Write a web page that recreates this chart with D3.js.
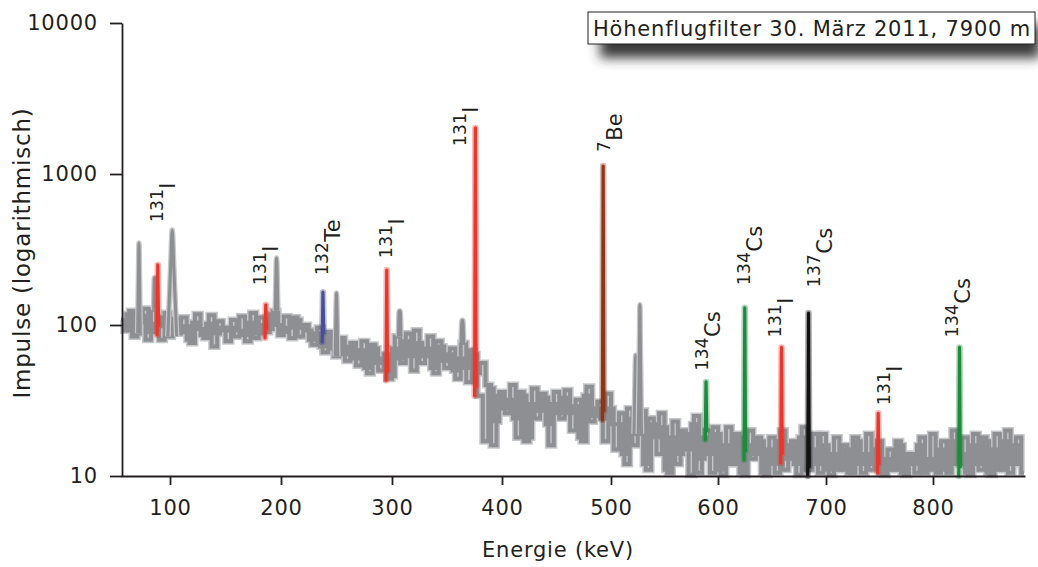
<!DOCTYPE html>
<html>
<head>
  <meta charset="utf-8">
  <title>Höhenflugfilter 30. März 2011</title>
  <script src="https://d3js.org/d3.v7.min.js"></script>
  <style>
    body { margin: 0; background: #fff; }
    svg text { font-family: "DejaVu Sans", Verdana, sans-serif; fill: #231f20; letter-spacing: 0.8px; }
    .axis path, .axis line { stroke: #231f20; stroke-width: 1.8; }
  </style>
</head>
<body>
  <svg id="chart" width="1038" height="567"></svg>
  <script>
    // spectrum, two overlaid traces: counts per 5 keV bin
    var binWidth = 5;
    var startA = 55;
    var countsA = [
      108, 92, 124, 88, 115, 80, 126, 98, 112, 84,
      110, 90, 98, 76, 118, 86, 102, 72, 106, 92,
      96, 84, 114, 78, 120, 88, 100, 94, 124, 86,
      114, 82, 108, 96, 92, 74, 96, 66, 86, 62,
      82, 58, 76, 54, 78, 48, 70, 50, 64, 46,
      84, 56, 88, 50, 76, 62, 84, 48, 72, 52,
      70, 44, 76, 42, 64, 34, 17, 38, 23, 36,
      26, 40, 18, 34, 18, 38, 27, 33, 16, 36,
      24, 37, 20, 32, 17, 39, 25, 31, 17, 28,
      15, 26, 12, 24, 19, 27, 11, 22, 14, 21,
      10.5, 23, 14, 19, 10.2, 25, 13, 20, 10.5, 19,
      10.2, 21, 12, 18, 10.2, 20, 14, 17, 10.2, 18,
      10.5, 20, 13, 17, 10.2, 21, 11, 19, 10.5, 16,
      10.2, 18, 11, 15, 10.5, 17, 10.5, 19, 12, 17,
      10.2, 15, 11, 16, 10.2, 14, 10.5, 18, 11, 19,
      10.5, 17, 10.5, 20, 12, 18, 10.2, 19, 11, 17,
      10.2, 19, 11, 20, 12, 18, 10.5
    ];
    var startB = 57.5;
    var countsB = [
      96, 118, 84, 104, 128, 90, 102, 80, 120, 94,
      88, 112, 80, 104, 94, 82, 116, 88, 96, 78,
      108, 92, 86, 104, 82, 112, 90, 118, 100, 90,
      96, 112, 84, 100, 80, 88, 72, 90, 70, 78,
      64, 72, 60, 68, 52, 74, 56, 60, 44, 70,
      60, 78, 62, 92, 56, 70, 52, 78, 58, 64,
      50, 60, 52, 68, 48, 56, 40, 16, 34, 28,
      32, 24, 36, 17, 30, 24, 35, 22, 30, 26,
      33, 26, 29, 18, 34, 23, 28, 24, 35, 22,
      22, 14, 28, 16, 22, 12, 24, 18, 26, 11,
      18, 12, 20, 15, 22, 10.5, 18, 14, 21, 11,
      16, 12, 19, 10.5, 16, 13, 18, 10.5, 15, 12,
      17, 11, 16, 12, 18, 11, 15, 12, 19, 11,
      14, 11, 16, 10.5, 18, 12, 14, 11, 15, 10.5,
      13, 11, 17, 10.5, 14, 12, 16, 10.5, 13, 11,
      15, 11, 17, 12, 14, 10.5, 16, 12, 18, 10.5,
      15, 11, 17, 10.5, 16, 12
    ];

    // unlabelled grey lines
    var grayPeakE     = [71.5, 86, 102, 196, 250, 307, 364, 523, 527];
    var grayPeakTop   = [349, 199, 425, 278, 163, 108, 90, 63, 136];
    var grayPeakWidth = [1.2, 1, 4, 1.2, 1.2, 1.2, 1.2, 1.5, 1.5];

    // identified lines
    var peakE      = [89, 186.5, 238, 295.5, 376, 493, 589, 625, 659, 684, 749, 825];
    var peakTop    = [250, 136, 165, 231, 2020, 1130, 42, 130, 71, 120, 26, 71];
    var peakBase   = [86, 82, 77, 43, 34, 23.5, 17.4, 12.8, 12.2, 10, 10.5, 10];
    var peakMass   = ['131', '131', '132', '131', '131', '7', '134', '134', '131', '137', '131', '134'];
    var peakElem   = ['I', 'I', 'Te', 'I', 'I', 'Be', 'Cs', 'Cs', 'I', 'Cs', 'I', 'Cs'];
    var peakColor  = ['#e8372c', '#e8372c', '#4a4f95', '#e8372c', '#e8372c', '#8a361a',
                      '#1d8a3c', '#1d8a3c', '#e8372c', '#111111', '#e8372c', '#1d8a3c'];
    var labelE     = [104.5, 197, 253, 311, 378, 510, 602, 641, 669, 706, 771, 835];
    var labelCount = [481, 184, 214, 278, 1532, 1399, 50, 184, 83, 178, 29.5, 83];

    var xTicks = [100, 200, 300, 400, 500, 600, 700, 800];
    var yTicks = [10, 100, 1000, 10000];
    var title = 'Höhenflugfilter 30. März 2011, 7900 m';

    var svg = d3.select('#chart');

    // the printed energy axis is not quite linear, so follow its tick marks
    var x = d3.scaleLinear()
        .domain([55, 100, 200, 300, 400, 500, 600, 700, 800, 886])
        .range([121, 170, 281, 392, 502, 611, 718, 826, 933, 1025])
        .clamp(true);
    var y = d3.scaleLog()
        .domain([10, 10000])
        .range([476, 23])
        .clamp(true);

    var defs = svg.append('defs');
    defs.append('filter')
        .attr('id', 'shadow')
        .attr('x', '-10%').attr('y', '-50%')
        .attr('width', '120%').attr('height', '250%')
      .append('feGaussianBlur')
        .attr('stdDeviation', 6);

    function toBins(arr, start) {
      return arr.map(function(c, i) { return { e: start + i * binWidth, c: c }; });
    }
    var traces = [toBins(countsA, startA), toBins(countsB, startB)];

    var stepLine = d3.line()
        .x(function(d) { return x(d.e); })
        .y(function(d) { return y(d.c); })
        .curve(d3.curveStep);

    var plot = svg.append('g');

    plot.selectAll('path.halo')
        .data(traces)
        .enter().append('path')
        .attr('class', 'halo')
        .attr('d', stepLine)
        .attr('fill', 'none')
        .attr('stroke', '#c6c7ca')
        .attr('stroke-width', 7);

    plot.selectAll('path.trace')
        .data(traces)
        .enter().append('path')
        .attr('class', 'trace')
        .attr('d', stepLine)
        .attr('fill', 'none')
        .attr('stroke', '#8e8f93')
        .attr('stroke-width', 4);

    function baseAt(e) {
      var i = Math.max(0, Math.min(countsA.length - 1, Math.round((e - startA) / binWidth)));
      return countsA[i];
    }

    var peakLine = d3.line()
        .x(function(d) { return x(d[0]); })
        .y(function(d) { return y(d[1]); })
        .curve(d3.curveMonotoneX);

    function peakShape(e, top, base, w) {
      return [
        [e - w, base],
        [e - w * 0.35, Math.sqrt(top * base) * 1.3],
        [e, top],
        [e + w * 0.35, Math.sqrt(top * base) * 1.3],
        [e + w, base]
      ];
    }

    grayPeakE.forEach(function(e, i) {
      var shape = peakShape(e, grayPeakTop[i], baseAt(e), grayPeakWidth[i]);
      plot.append('path')
          .attr('d', peakLine(shape))
          .attr('fill', 'none')
          .attr('stroke', '#c6c7ca')
          .attr('stroke-width', 5.5);
      plot.append('path')
          .attr('d', peakLine(shape))
          .attr('fill', 'none')
          .attr('stroke', '#8e8f93')
          .attr('stroke-width', 3);
    });

    var straight = d3.line()
        .x(function(d) { return x(d[0]); })
        .y(function(d) { return y(d[1]); });

    peakE.forEach(function(e, i) {
      var pts = [[e - 0.9, peakBase[i]], [e - 0.2, peakTop[i]], [e + 0.5, peakBase[i] * 1.15]];
      plot.append('path')
          .attr('d', straight(pts))
          .attr('fill', 'none')
          .attr('stroke', peakColor[i])
          .attr('stroke-opacity', 0.35)
          .attr('stroke-width', 6.5)
          .attr('stroke-linecap', 'round')
          .attr('stroke-linejoin', 'round');
      plot.append('path')
          .attr('d', straight(pts))
          .attr('fill', 'none')
          .attr('stroke', peakColor[i])
          .attr('stroke-width', 3.2)
          .attr('stroke-linecap', 'round')
          .attr('stroke-linejoin', 'round');
    });

    // isotope labels, vertical, mass number raised
    peakE.forEach(function(e, i) {
      var t = svg.append('text')
          .style('letter-spacing', '0.3px')
          .attr('transform', 'translate(' + x(labelE[i]) + ',' + y(labelCount[i]) + ') rotate(-90)');
      t.append('tspan')
          .attr('font-size', 17)
          .attr('dy', -12)
          .text(peakMass[i]);
      t.append('tspan')
          .attr('font-size', 21)
          .attr('dy', 12)
          .text(peakElem[i]);
    });

    // axes
    svg.append('g')
        .attr('class', 'axis')
        .attr('transform', 'translate(0,476)')
        .call(d3.axisBottom(x).tickValues(xTicks).tickSize(9).tickSizeOuter(0).tickPadding(15));
    svg.append('g')
        .attr('class', 'axis')
        .attr('transform', 'translate(122,0)')
        .call(d3.axisLeft(y).tickValues(yTicks).tickFormat(d3.format('d'))
          .tickSize(12).tickSizeOuter(0).tickPadding(12));
    svg.selectAll('.axis text')
        .attr('font-size', 21)
        .attr('font-family', '"DejaVu Sans", Verdana, sans-serif')
        .style('fill', '#231f20');

    svg.append('text')
        .attr('x', 558)
        .attr('y', 557)
        .attr('text-anchor', 'middle')
        .attr('font-size', 21)
        .text('Energie (keV)');

    svg.append('text')
        .attr('transform', 'translate(30,253) rotate(-90)')
        .attr('text-anchor', 'middle')
        .attr('font-size', 23)
        .text('Impulse (logarithmisch)');

    // title box with soft shadow
    svg.append('rect')
        .attr('x', 600).attr('y', 24)
        .attr('width', 440).attr('height', 34)
        .attr('fill', '#3a3a3a')
        .attr('filter', 'url(#shadow)');
    svg.append('rect')
        .attr('x', 588).attr('y', 12)
        .attr('width', 447).attr('height', 32)
        .attr('fill', '#fff')
        .attr('stroke', '#231f20')
        .attr('stroke-width', 1);
    svg.append('text')
        .attr('x', 593)
        .attr('y', 36)
        .attr('font-size', 21)
        .text(title);
  </script>
</body>
</html>
